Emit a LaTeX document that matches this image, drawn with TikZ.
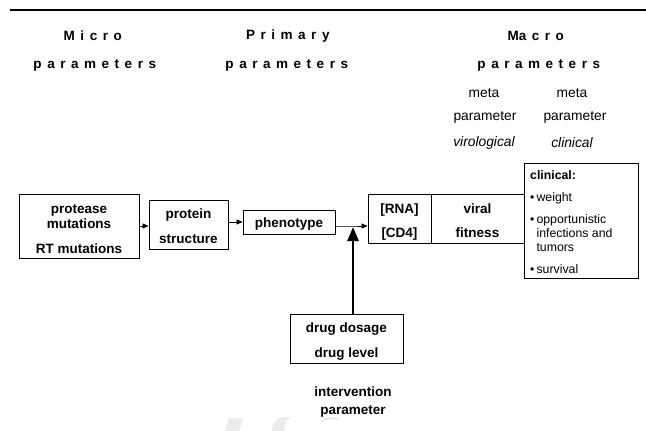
\documentclass[tikz,border=0pt]{standalone}
\usepackage{fontspec}
\setmainfont{Liberation Sans}
\usetikzlibrary{arrows.meta}
\begin{document}
\begin{tikzpicture}[x=1pt,y=-1pt,
  box/.style={draw, line width=0.8pt, inner sep=0pt},
  boxtxt/.style={inner sep=0pt, align=center,
    font=\bfseries\fontsize{13.5}{15}\selectfont},
  hdr/.style={inner sep=0pt, font=\bfseries\fontsize{13.5}{16}\selectfont\addfontfeatures{LetterSpace=41}},
  metatext/.style={inner sep=0pt, font=\fontsize{13.8}{16}\selectfont},
  lbl/.style={inner sep=0pt, align=center, font=\bfseries\fontsize{13.5}{18}\selectfont},
  arr/.style={-{Triangle[length=6pt,width=5pt]}, line width=0.7pt},
  thickarr/.style={line width=2.6pt, -{Triangle[length=14pt,width=11pt]}},
  wm/.style={fill=black!8, draw=none},
]
\useasboundingbox (0,0) rectangle (646,431);

% top rule
\coordinate (tl) at (10,10);
\coordinate (tr) at (646,10);
\draw[line width=2pt] (tl) -- (tr);

% headers
\node[hdr] (mic1) at (92.8,36) {Micro};
\node[hdr] (mic2) at (94.8,65) {parameters};
\node[hdr] (pri1) at (287.8,36) {Primary};
\node[hdr] (pri2) at (286.8,65) {parameters};
\node[hdr] (mac1) at (535.8,36) {{\addfontfeatures{LetterSpace=0}M}acro};
\node[hdr] (mac2) at (538.8,65) {parameters};

% meta parameters
\node[metatext] (m1a) at (484,93) {meta};
\node[metatext] (m1b) at (485,117) {parameter};
\node[metatext, font=\itshape\fontsize{13.8}{16}\selectfont] (m1c) at (484,143) {virological};
\node[metatext] (m2a) at (572,93) {meta};
\node[metatext] (m2b) at (575,117) {parameter};
\node[metatext, font=\itshape\fontsize{13.8}{16}\selectfont] (m2c) at (572,143) {clinical};

% boxes
\node[box, minimum width=120pt, minimum height=64pt] (prot) at (79,226) {};
\node[boxtxt] (prot-t) at ([yshift=-3.5pt]prot.center)
  {protease\\mutations\\[10pt]RT mutations};
\node[box, minimum width=79pt, minimum height=49pt] (protein) at (188.5,224.5) {};
\node[boxtxt] (protein-t) at ([yshift=-1.5pt]protein.center)
  {protein\\[10pt]structure};
\node[box, minimum width=92pt, minimum height=24pt] (pheno) at (289,222) {};
\node[boxtxt] (pheno-t) at ([yshift=-2.5pt]pheno.center) {phenotype};
\node[box, minimum width=63pt, minimum height=49pt] (rna) at (399.5,218.5) {};
\node[boxtxt] (rna-t) at ([yshift=-3.5pt]rna.center) {[RNA]\\[9pt][CD4]};
\node[box, minimum width=93pt, minimum height=49pt] (viral) at (477.5,218.5) {};
\node[boxtxt] (viral-t) at ([yshift=-2pt]viral.center) {viral\\[9pt]fitness};
\node[box, minimum width=114pt, minimum height=115pt] (clin) at (581,220.5) {};
\node[inner sep=0pt, anchor=north west, align=left,
  font=\fontsize{12.3}{14}\selectfont] (clintext) at (530,170)
  {\textbf{clinical:}\\[8pt]
   •\,weight\\[8pt]
   •\,opportunistic\\
   \phantom{•\,}infections and\\
   \phantom{•\,}tumors\\[8pt]
   •\,survival};
\node[box, minimum width=113pt, minimum height=49pt] (drug) at (346.5,338.5) {};
\node[boxtxt] (drug-t) at ([yshift=-3.5pt]drug.center) {drug dosage\\[10pt]drug level};
\node[lbl] (interv) at (353,402) {intervention\\parameter};

% connectors
\coordinate (j) at (353,226);
\draw[arr] (prot.east) -- (prot.east -| protein.west);
\draw[arr] (protein.east |- pheno.west) -- (pheno.west);
\draw[arr] ([yshift=-4pt]pheno.east) -- (j) -- (j -| rna.west);
\draw[thickarr] (drug.north -| j) -- ([yshift=-1pt]j);

% faint watermark fragments
\fill[wm] (229,418) -- (243,418) -- (239,431) -- (225,431) -- cycle;
\fill[wm] (272,431) .. controls (272,424) and (276,419) .. (283,417)
  -- (291,417) .. controls (286,420) and (284,425) .. (284,431) -- cycle;
\fill[wm] (321,421) .. controls (326,417) and (333,416) .. (339,418)
  -- (338,420) .. controls (333,419) and (327,419) .. (322,422) -- cycle;
\end{tikzpicture}
\end{document}
